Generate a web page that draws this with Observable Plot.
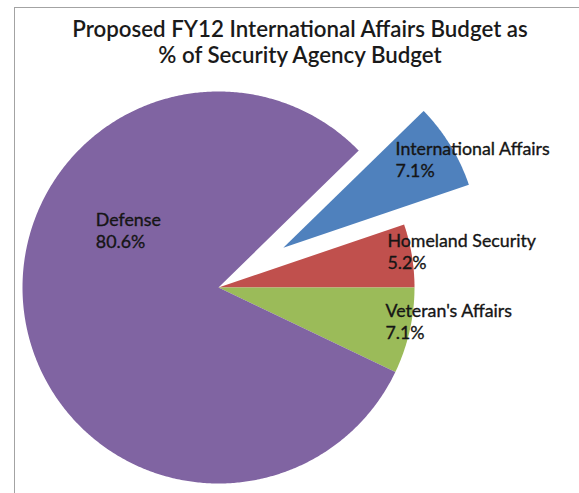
<!DOCTYPE html>
<html><head><meta charset="utf-8">
<script src="https://cdn.jsdelivr.net/npm/d3@7"></script>
<script src="https://cdn.jsdelivr.net/npm/@observablehq/plot@0.6"></script>
<style>
body{margin:0;background:#fff;}
#wrap{position:relative;width:579px;height:493px;overflow:hidden;background:#fff;}
#frame{position:absolute;left:14px;top:7px;right:-5px;bottom:-5px;border-top:1.5px solid #a3a3a3;border-left:1.5px solid #a3a3a3;}
#chart{position:absolute;left:0;top:0;}
#title{position:absolute;left:0;width:600px;top:16px;text-align:center;font-family:Lato,"Open Sans",sans-serif;font-weight:600;font-size:19.5px;line-height:26px;color:#1a1a1a;}
#title span{display:inline-block;white-space:nowrap;}
</style></head>
<body>
<div id="wrap">
  <div id="frame"></div>
  <div id="chart"></div>
  <div id="title"><span id="t1">Proposed FY12 International Affairs Budget as</span><br><span id="t2">% of Security Agency Budget</span></div>
</div>
<script>
// ---- data ----
const names = ["International Affairs", "Homeland Security", "Veteran's Affairs", "Defense"];
const shares = [7.1, 5.2, 7.1, 80.6];
const pctLabels = ["7.1%", "5.2%", "7.1%", "80.6%"];
const colors = ["#4F81BD", "#C0504D", "#9BBB59", "#8064A2"];

// ---- layout ----
const W = 579, H = 493;
const cx = 218, cy = 287, R = 196;
const firstSliceAngle = 45.7;            // degrees clockwise from 12 o'clock
const explode = {"International Affairs": 76};
const labelPolar = {                     // [radius px, angle deg] from slice origin (2nd-line baseline)
  "International Affairs": [133, 32.4],
  "Homeland Security": [170, 6.4],
  "Veteran's Affairs": [174.6, -17],
  "Defense": [129, 162]
};
const labelSize = 17.8;

const total = d3.sum(shares);
const rad = d => d * Math.PI / 180;
let cum = 0;
const slicePts = [];
const labelRows = [];
names.forEach((name, i) => {
  const a0 = 90 - firstSliceAngle - cum / total * 360;
  const a1 = a0 - shares[i] / total * 360;
  cum += shares[i];
  const mid = (a0 + a1) / 2;
  const e = explode[name] || 0;
  const ox = e * Math.cos(rad(mid)), oy = e * Math.sin(rad(mid));
  slicePts.push({name, x: ox, y: oy});
  const steps = Math.max(2, Math.ceil(Math.abs(a1 - a0) / 0.5));
  for (let k = 0; k <= steps; k++) {
    const a = a0 + (a1 - a0) * k / steps;
    slicePts.push({name, x: ox + R * Math.cos(rad(a)), y: oy + R * Math.sin(rad(a))});
  }
  slicePts.push({name, x: ox, y: oy});
  const [lr, la] = labelPolar[name];
  labelRows.push({name, text: name + "\n" + pctLabels[i], x: ox + lr * Math.cos(rad(la)), y: oy + lr * Math.sin(rad(la))});
});

const plot = Plot.plot({
  width: W, height: H,
  margin: 0,
  style: {background: "transparent", overflow: "visible"},
  x: {domain: [-cx, W - cx], axis: null},
  y: {domain: [-(H - cy), cy], axis: null},
  color: {domain: names, range: colors},
  marks: [
    Plot.line(slicePts, {x: "x", y: "y", z: "name", fill: "name", stroke: null, curve: "linear"}),
    Plot.text(labelRows, {x: "x", y: "y", text: "text", textAnchor: "start", lineAnchor: "bottom",
      lineHeight: 22 / labelSize, fontSize: labelSize, fontFamily: "Lato, 'Open Sans', sans-serif",
      fill: "#151515", stroke: "#151515", strokeWidth: 0.35})
  ]
});
document.getElementById("chart").appendChild(plot);

// fit title line widths to reference
const t1 = document.getElementById("t1");
const w1 = t1.getBoundingClientRect().width;
const target = 456;
const fs = 19.5 * target / w1;
document.getElementById("title").style.fontSize = fs + "px";
</script>
</body></html>
